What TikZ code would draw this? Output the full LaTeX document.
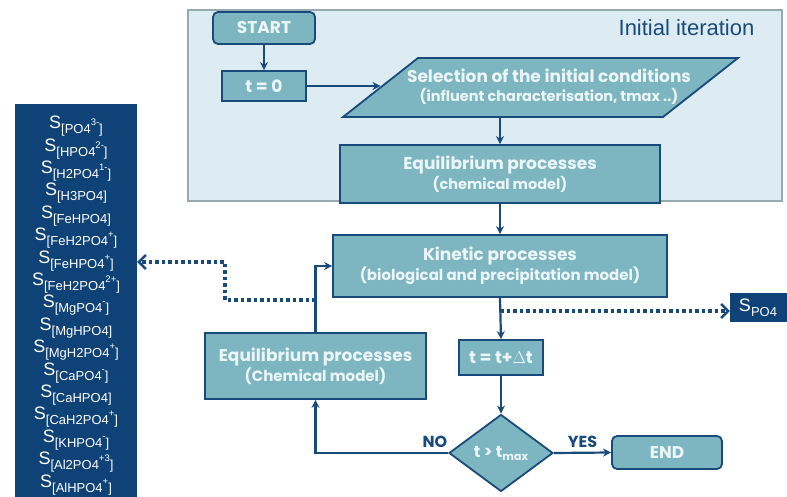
\documentclass[tikz,border=0pt]{standalone}
\usepackage{fontspec}
\setmainfont{Liberation Sans}
\newfontfamily\flowfont{Poppins}
\usetikzlibrary{shapes.geometric,arrows.meta}
\definecolor{tealbox}{RGB}{125,182,192}
\definecolor{navy}{RGB}{24,74,124}
\definecolor{darkbox}{RGB}{15,66,118}
\definecolor{initbg}{RGB}{221,236,242}
\definecolor{initborder}{RGB}{150,170,176}
\definecolor{boxtext}{RGB}{236,246,248}
\newcommand\specS[2]{S\raisebox{-5pt}{\fontsize{13}{13}\selectfont[#1\raisebox{8pt}{\fontsize{9.5}{9.5}\selectfont #2}]}}
\newcommand\subline[2]{{\fontsize{#1}{#1}\selectfont #2}}
\begin{document}
\begin{tikzpicture}[x=1pt,y=-1pt,
  flowbox/.style={draw=navy,line width=1.8pt,fill=tealbox,text=boxtext,font=\flowfont\bfseries\fontsize{17}{20}\selectfont,align=center,inner sep=0pt},
  shapefill/.style={draw=navy,line width=1.8pt,fill=tealbox,line join=miter},
  conn/.style={draw=navy,line width=2.2pt,-{Stealth[length=8pt,width=8pt]}},
  dotconn/.style={draw=navy,line width=3.5pt,dash pattern=on 3.5pt off 3pt,-{Straight Barb[length=7pt,width=14pt,line width=2.5pt]}},
  lbl/.style={text=navy,font=\flowfont\bfseries\fontsize{16}{18}\selectfont}
]
\useasboundingbox (0,0) rectangle (787,497);
% initial iteration background
\node[draw=initborder,fill=initbg,line width=1.5pt,minimum width=594pt,minimum height=191pt,inner sep=0pt] (init) at (485,105.5) {};
\node[text=navy,font=\fontsize{22}{26}\selectfont] (inittxt) at (686.5,28) {Initial iteration};
% nodes
\node[flowbox,rounded corners=5pt,minimum width=102pt,minimum height=32pt] (start) at (264,28) {START};
\node[flowbox,minimum width=84pt,minimum height=30pt] (t0) at (264,86) {t = 0};
% parallelogram
\coordinate (selbl) at (343,117);
\coordinate (seltl) at (418,58);
\coordinate (seltr) at (738,58);
\coordinate (selbr) at (663,117);
\coordinate (selleft) at (380.5,87.5);
\path[shapefill] (selbl) -- (seltl) -- (seltr) -- (selbr) -- cycle;
\node[flowbox,draw=none,fill=none,font=\flowfont\bfseries\fontsize{17}{19}\selectfont] (sel) at (549,87) {Selection of the initial conditions\\\subline{14.5}{(influent characterisation, tmax ..)}};
\node[flowbox,minimum width=320pt,minimum height=58pt] (eqa) at (500,174) {Equilibrium processes\\\subline{14.5}{(chemical model)}};
\node[flowbox,minimum width=334pt,minimum height=62pt] (kin) at (500,266) {Kinetic processes\\\subline{15}{(biological and precipitation model)}};
\node[flowbox,minimum width=84pt,minimum height=35pt] (dt) at (501,357.5) {t = t+$\Delta$t};
\node[flowbox,minimum width=221pt,minimum height=66pt] (eqb) at (315.5,366) {Equilibrium processes\\\subline{15}{(Chemical model)}};
\node[flowbox,diamond,minimum width=104pt,minimum height=77pt,font=\flowfont\bfseries\fontsize{16}{18}\selectfont] (dia) at (501,453) {t > t\raisebox{-3pt}{\fontsize{11}{11}\selectfont max}};
\node[flowbox,rounded corners=5pt,minimum width=110pt,minimum height=33pt] (end) at (667,452.5) {END};
% dark boxes
\node[fill=darkbox,minimum width=122pt,minimum height=400pt,inner sep=0pt] (species) at (76,304) {};
\node[fill=darkbox,text=white,minimum width=60pt,minimum height=29pt,inner sep=0pt,font=\fontsize{18}{20}\selectfont] (spo) at (760,307.5) {\hspace*{-4pt}S\raisebox{-5pt}{\fontsize{13}{13}\selectfont PO4}};
\node[text=white,font=\fontsize{18}{22.4}\selectfont,align=center,anchor=north,inner sep=0pt] (splist) at (76,116) {%
\specS{PO4}{3-}\\ \specS{HPO4}{2-}\\ \specS{H2PO4}{1-}\\ \specS{H3PO4}{}\\ \specS{FeHPO4}{}\\
\specS{FeH2PO4}{+}\\ \specS{FeHPO4}{+}\\ \specS{FeH2PO4}{2+}\\ \specS{MgPO4}{-}\\ \specS{MgHPO4}{}\\
\specS{MgH2PO4}{+}\\ \specS{CaPO4}{-}\\ \specS{CaHPO4}{}\\ \specS{CaH2PO4}{+}\\ \specS{KHPO4}{-}\\
\specS{Al2PO4}{+3}\\ \specS{AlHPO4}{+}};
% connectors
\draw[conn] (start.south) -- (t0.north);
\draw[conn] (t0.east) -- (t0.east -| selleft);
\draw[conn] (eqa.north |- selbl) -- (eqa.north);
\draw[conn] (eqa.south) -- (kin.north);
\draw[conn] (kin.south) -- (dt.north);
\draw[conn] (dt.south) -- (dia.north);
\draw[conn] (dia.east) -- node[lbl,above=1pt] (yes) {YES} (end.west);
\draw[conn] (dia.west) -- node[lbl,above=1pt,pos=0.1] (no) {NO} (dia.west -| eqb.south) -- (eqb.south);
\draw[conn] (eqb.north) |- (kin.west);
\coordinate (dstart) at (kin.south |- 0,311);
\draw[dotconn] (dstart) -- (dstart -| spo.west);
\coordinate (lstart) at (eqb.north |- 0,300);
\coordinate (lcorner) at (225,300);
\draw[dotconn] (lstart) -- (lcorner) |- (species.east |- 0,262);
\end{tikzpicture}
\end{document}
